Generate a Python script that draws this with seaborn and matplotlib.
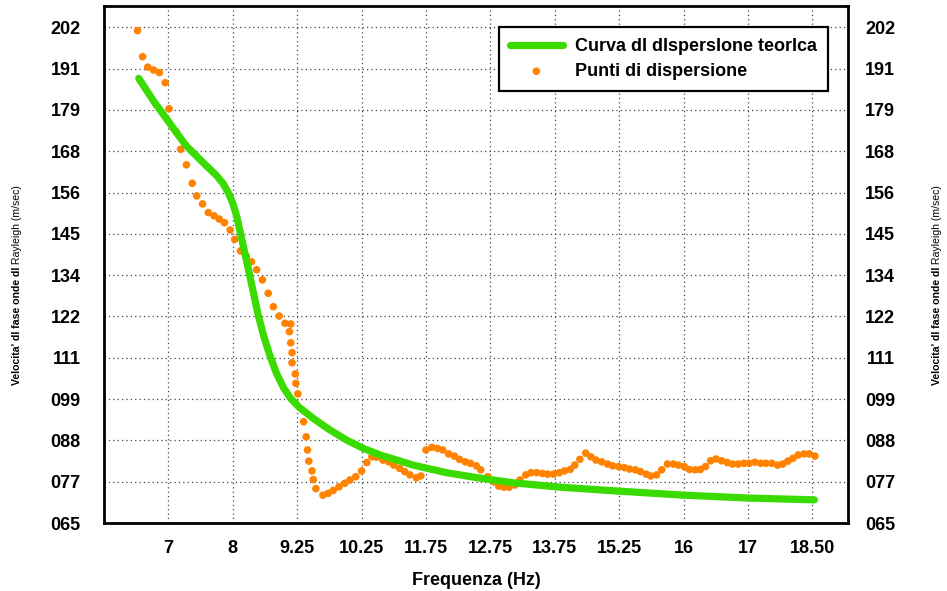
import numpy as np
import pandas as pd
import matplotlib
matplotlib.use("Agg")
import matplotlib.pyplot as plt
import seaborn as sns

# Tick labels (x positions are evenly spaced slots 1..11 on the frequency axis)
frequenze_etichette = ["7", "8", "9.25", "10.25", "11.75", "12.75", "13.75",
                       "15.25", "16", "17", "18.50"]
velocita_etichette = ["065", "077", "088", "099", "111", "122", "134",
                      "145", "156", "168", "179", "191", "202"]
velocita_min, velocita_max = 65, 202

# Theoretical dispersion curve (axis position, phase velocity m/s)
curva_x = [0.54, 0.77, 1.00, 1.15, 1.28, 1.54, 1.75, 1.85, 1.93, 2.00,
           2.06, 2.11, 2.18, 2.25, 2.39, 2.48, 2.57, 2.68, 2.79, 2.90,
           3.03, 3.25, 3.51, 3.77, 4.03, 4.29, 4.80, 5.32, 5.84, 6.36,
           7.08, 8.00, 9.00, 10.00, 11.03]
curva_v = [187.9, 181.6, 176.0, 172.3, 169.2, 164.6, 161.0, 158.8, 156.3, 153.4,
           149.8, 145.8, 140.2, 134.5, 122.8, 116.7, 111.6, 106.3, 102.3, 99.4,
           97.0, 93.9, 90.7, 87.9, 85.6, 83.8, 81.0, 78.9, 77.4, 76.1,
           74.9, 73.8, 72.7, 71.9, 71.4]

# Measured dispersion points
punti_x = [0.52, 0.60, 0.68, 0.77, 0.86, 0.95, 1.01, 1.12, 1.19, 1.28,
           1.37, 1.44, 1.53, 1.62, 1.71, 1.79, 1.87, 1.96, 2.03, 2.12,
           2.21, 2.29, 2.37, 2.46, 2.55, 2.63, 2.72, 2.81, 2.90, 2.88,
           2.90, 2.92, 2.92, 2.97, 2.98, 3.01, 3.10, 3.14, 3.16, 3.18,
           3.23, 3.25, 3.29, 3.40, 3.48, 3.56, 3.65, 3.74, 3.82, 3.91,
           4.00, 4.08, 4.16, 4.23, 4.33, 4.42, 4.50, 4.59, 4.67, 4.75,
           4.85, 4.92, 5.00, 5.09, 5.18, 5.26, 5.35, 5.44, 5.52, 5.61,
           5.69, 5.78, 5.85, 5.96, 6.05, 6.13, 6.21, 6.29, 6.38, 6.46,
           6.55, 6.63, 6.72, 6.81, 6.89, 6.98, 7.07, 7.15, 7.24, 7.31,
           7.39, 7.48, 7.56, 7.64, 7.73, 7.82, 7.90, 7.99, 8.08, 8.16,
           8.25, 8.33, 8.42, 8.49, 8.58, 8.66, 8.75, 8.84, 8.92, 9.01,
           9.09, 9.18, 9.26, 9.34, 9.42, 9.50, 9.59, 9.68, 9.76, 9.85,
           9.94, 10.02, 10.11, 10.20, 10.28, 10.37, 10.46, 10.54, 10.62, 10.70,
           10.78, 10.87, 10.95, 11.04]
punti_v = [201.1, 193.9, 191.0, 190.2, 189.5, 186.7, 179.5, 173.2, 168.3, 164.0,
           158.9, 155.4, 153.2, 150.8, 149.9, 149.0, 148.0, 146.0, 143.4, 140.2,
           138.7, 137.2, 135.0, 132.2, 128.5, 124.8, 122.2, 120.2, 120.0, 117.9,
           114.8, 112.1, 109.3, 106.2, 103.6, 100.7, 93.0, 88.8, 85.2, 82.1,
           79.4, 77.0, 74.5, 72.7, 73.2, 74.0, 75.0, 76.0, 76.9, 77.8,
           79.4, 81.7, 83.3, 83.2, 82.4, 81.9, 81.0, 80.1, 79.2, 78.3,
           77.5, 78.0, 85.2, 85.9, 85.6, 85.2, 84.1, 83.5, 82.6, 81.9,
           81.5, 80.8, 79.7, 77.8, 76.4, 75.2, 74.9, 74.9, 75.5, 76.9,
           78.3, 78.9, 78.9, 78.7, 78.5, 78.5, 78.9, 79.4, 79.8, 81.0,
           82.6, 84.3, 83.3, 82.4, 81.9, 81.3, 80.8, 80.6, 80.3, 79.9,
           79.7, 79.2, 78.5, 78.0, 78.3, 79.7, 81.3, 81.3, 81.0, 80.6,
           79.8, 79.7, 79.8, 80.6, 82.2, 82.7, 82.2, 81.7, 81.3, 81.3,
           81.5, 81.5, 81.8, 81.5, 81.5, 81.5, 81.0, 81.3, 82.1, 82.9,
           83.8, 84.1, 84.1, 83.5]

sns.set_theme(style="white")
plt.rcParams["font.family"] = ["Liberation Sans", "DejaVu Sans"]
plt.rcParams["text.color"] = "black"
plt.rcParams["axes.labelcolor"] = "black"
plt.rcParams["xtick.color"] = "black"
plt.rcParams["ytick.color"] = "black"

W, H = 947, 591
fig = plt.figure(figsize=(W / 100, H / 100), dpi=100)
ax = fig.add_axes([104 / W, 1 - 523 / H, 744 / W, 517 / H])

curva = pd.DataFrame({"x": curva_x, "v": curva_v})
punti = pd.DataFrame({"x": punti_x, "v": punti_v})

sns.scatterplot(data=punti, x="x", y="v", ax=ax, color="#FF8200", s=30,
                edgecolor="none", linewidth=0, label="Punti di dispersione",
                zorder=3)
sns.lineplot(data=curva, x="x", y="v", ax=ax, color="#3ADB00", lw=5.2,
             sort=False, label="Curva dI dIspersIone teorIca", zorder=4)

# Axis scales
ytick_pos = np.linspace(velocita_min, velocita_max, len(velocita_etichette))
ax.set_xlim(0, 11.553)
ax.set_ylim(velocita_min, 207.9)
ax.set_xticks(np.arange(1, len(frequenze_etichette) + 1))
ax.set_xticklabels(frequenze_etichette)
ax.set_yticks(ytick_pos)
ax.set_yticklabels(velocita_etichette)

for lab in ax.get_xticklabels() + ax.get_yticklabels():
    lab.set_fontsize(13)
    lab.set_fontweight("bold")
ax.tick_params(axis="x", length=0, pad=12, colors="black")
ax.tick_params(axis="y", length=0, pad=17, colors="black")

ax.grid(True, linestyle=(0, (1, 2.5)), color="#444444", linewidth=0.9)
for sp in ax.spines.values():
    sp.set_visible(True)
    sp.set_color("black")
    sp.set_linewidth(2.0)

ax.set_xlabel("Frequenza (Hz)", fontsize=13, fontweight="bold", labelpad=11,
              color="black")
ax.set_ylabel("")

# Right-hand copy of the velocity scale
ax2 = ax.twinx()
ax2.set_ylim(ax.get_ylim())
ax2.set_yticks(ytick_pos)
ax2.set_yticklabels(velocita_etichette, fontsize=13, fontweight="bold", ha="right")
ax2.tick_params(axis="y", length=0, pad=34, colors="black")
ax2.grid(False)
for sp in ax2.spines.values():
    sp.set_visible(False)

# Legend with the theoretical curve listed first
h, l = ax.get_legend_handles_labels()
order = [l.index("Curva dI dIspersIone teorIca"), l.index("Punti di dispersione")]
leg = ax.legend([h[i] for i in order], [l[i] for i in order],
                loc="upper right", bbox_to_anchor=(1 - 20 / 744, 1 - 21 / 517),
                borderaxespad=0, frameon=True, fancybox=False, framealpha=1,
                edgecolor="black", handlelength=2.9, handletextpad=0.7,
                borderpad=0.6, labelspacing=0.45, labelcolor="black",
                prop={"size": 13, "weight": "bold"})
leg.get_frame().set_linewidth(1.6)

# Vertical axis titles on both sides (bold part + regular part)
for xc in (17 / W, 937 / W):
    t1 = fig.text(xc, 1 - 385 / H, "Velocita' dI fase onde dI", rotation=90,
                  ha="center", va="bottom", fontsize=7.6, fontweight="bold",
                  color="black")
    ax.annotate(" Rayleigh (m/sec)", xy=(0.5, 1.0), xycoords=t1,
                ha="center", va="bottom", rotation=90, fontsize=7.6,
                color="black", annotation_clip=False)

fig.savefig("out.png", dpi=100)
